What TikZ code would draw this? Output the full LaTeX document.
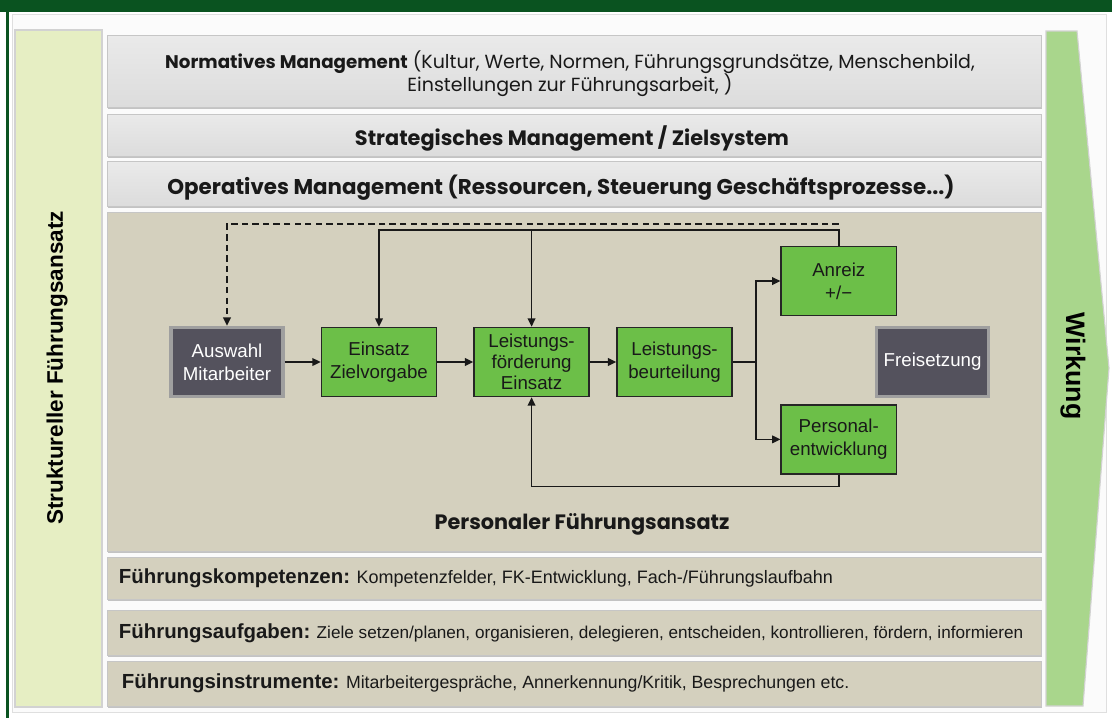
\documentclass[tikz,border=0pt]{standalone}
\usepackage{fontspec}
\setmainfont{Liberation Sans}
\newfontfamily\gothic{Poppins}
\usetikzlibrary{arrows.meta, positioning, calc, shadows}
\definecolor{HeadGreen}{HTML}{0A5320}
\definecolor{PanelYellow}{HTML}{E6EEC3}
\definecolor{ArrowGreen}{HTML}{A9D68C}
\definecolor{BandGray}{HTML}{DCDCDC}
\definecolor{BandBeige}{HTML}{D4D0BE}
\definecolor{BoxGreen}{HTML}{6CBF48}
\definecolor{BoxDark}{HTML}{54525D}

\begin{document}
\begin{tikzpicture}[
    x=0.025cm, y=-0.025cm,
    font=\fontsize{13.3}{16.4}\selectfont,
    greyband/.style={top color=BandGray!60, bottom color=BandGray, draw=gray!45,
        line width=0.6pt, drop shadow={shadow xshift=0.4pt, shadow yshift=-1.4pt,
        fill=black!45, opacity=0.5}},
    beigeband/.style={fill=BandBeige, draw=gray!45, line width=0.6pt,
        drop shadow={shadow xshift=0.4pt, shadow yshift=-1.4pt,
        fill=black!45, opacity=0.5}},
    bandtext/.style={font=\gothic\fontsize{14.8}{17}\selectfont, align=center, text=black!90},
    lowtext/.style={anchor=west, font=\fontsize{12.6}{14}\selectfont, text=black!90},
    stepgreen/.style={draw=black!85, line width=1.1pt, fill=BoxGreen, text=black!90,
        align=center, inner sep=1pt, minimum width=2.875cm, minimum height=1.725cm},
    stepdark/.style={draw=gray!75, line width=2.4pt, fill=BoxDark, text=white,
        align=center, inner sep=1pt, minimum width=2.8cm, minimum height=1.725cm},
    flow/.style={-{Triangle[length=6pt, width=5.5pt]}, line width=1.1pt, black!90},
]
\useasboundingbox (0,0) rectangle (1112,718);

% rahmen
\fill[white] (0,0) rectangle (1112,718);
\path[fill=gray!3, draw=gray!25] (12,14) rectangle (1106,712);
\fill[HeadGreen] (0,0) rectangle (1112,12);
\fill[HeadGreen] (6,0) rectangle (9,718);

% struktureller ansatz / wirkung
\path[fill=PanelYellow, draw=gray!35, line width=0.8pt] (15,30) rectangle (102,707);
\node[rotate=90, font=\bfseries\fontsize{16}{18}\selectfont] (strukt) at (57,368)
    {Struktureller Führungsansatz};
\path[fill=ArrowGreen, draw=gray!35, line width=0.8pt]
    (1046,31) -- (1077,31) -- (1109,368) -- (1083,706) -- (1046,706) -- cycle;
\node[rotate=-90, font=\bfseries\fontsize{19}{21}\selectfont] (wirk) at (1073,366)
    {Wirkung};

% managementebenen
\path[greyband] (107,35) rectangle (1041,107);
\path[greyband] (107,114) rectangle (1041,156);
\path[greyband] (107,161) rectangle (1041,206);
\node[bandtext, font=\gothic\fontsize{13.5}{16.5}\selectfont] (norm) at (570,74)
    {{\fontsize{13}{16.5}\selectfont\bfseries Normatives Management} (Kultur, Werte, Normen, Führungsgrundsätze, Menschenbild,\\
     Einstellungen zur Führungsarbeit, )};
\node[bandtext] (strat) at (572,138) {\textbf{Strategisches Management / Zielsystem}};
\node[bandtext, font=\gothic\fontsize{15.2}{17}\selectfont] (oper) at (561,188)
    {\textbf{Operatives Management (Ressourcen, Steuerung Geschäftsprozesse...)}};

% personaler ansatz
\path[beigeband] (107,212) rectangle (1041,551);
\node[bandtext] (pers) at (582,524) {\textbf{Personaler Führungsansatz}};

% prozesskette
\node[stepdark] (ausw) at (227,362) {Auswahl\\Mitarbeiter};
\node[stepgreen, right=0.9cm of ausw] (eins) {Einsatz\\Zielvorgabe};
\node[stepgreen, right=0.9cm of eins, font=\fontsize{13.3}{14.8}\selectfont] (lfoe)
    {Leistungs-\\förderung\\Einsatz};
\node[stepgreen, right=0.66cm of lfoe] (lbeu) {Leistungs-\\beurteilung};
\node[stepgreen, above right=0.26cm and 1.19cm of lbeu] (anr) {Anreiz\\+/−};
\node[stepgreen, below right=0.17cm and 1.19cm of lbeu] (pent) {Personal-\\entwicklung};
\node[stepdark, right=3.55cm of lbeu] (frei) {Freisetzung};

\draw[flow] (ausw) -- (eins);
\draw[flow] (eins) -- (lfoe);
\draw[flow] (lfoe) -- (lbeu);
\coordinate (fork) at ($(lbeu.east)+(23,0)$);
\draw[flow] (lbeu.east) -- (fork) |- (anr);
\draw[flow] (fork) |- (pent);

% rueckkopplungen
\coordinate (topline) at ($(anr.north)+(0,-16)$);
\coordinate (dashline) at ($(anr.north)+(0,-22)$);
\coordinate (botline) at ($(pent.south)+(0,12)$);
\draw[flow] (anr.north) -- (topline) -| (eins.north);
\draw[flow] (topline -| lfoe.north) -- (lfoe.north);
\draw[flow, dashed, dash pattern=on 4.5pt off 3pt] (dashline) -| (ausw.north);
\draw[flow] (pent.south) -- (botline) -| (lfoe.south);

% fuehrungsebenen unten
\path[beigeband] (107,557) rectangle (1041,599);
\path[beigeband] (107,610) rectangle (1041,655);
\path[beigeband] (107,661) rectangle (1041,706);
\node[lowtext, font=\fontsize{12.8}{14}\selectfont] (komp) at (114,578)
    {\textbf{\fontsize{14.5}{16}\selectfont Führungskompetenzen:} Kompetenzfelder, FK-Entwicklung, Fach-/Führungslaufbahn};
\node[lowtext, font=\fontsize{12.2}{14}\selectfont] (aufg) at (114,633)
    {\textbf{\fontsize{14.5}{16}\selectfont Führungsaufgaben:} Ziele setzen/planen, organisieren, delegieren, entscheiden, kontrollieren, fördern, informieren};
\node[lowtext] (instr) at (117,683)
    {\textbf{\fontsize{14.5}{16}\selectfont Führungsinstrumente:} Mitarbeitergespräche, Annerkennung/Kritik, Besprechungen etc.};

\end{tikzpicture}
\end{document}
